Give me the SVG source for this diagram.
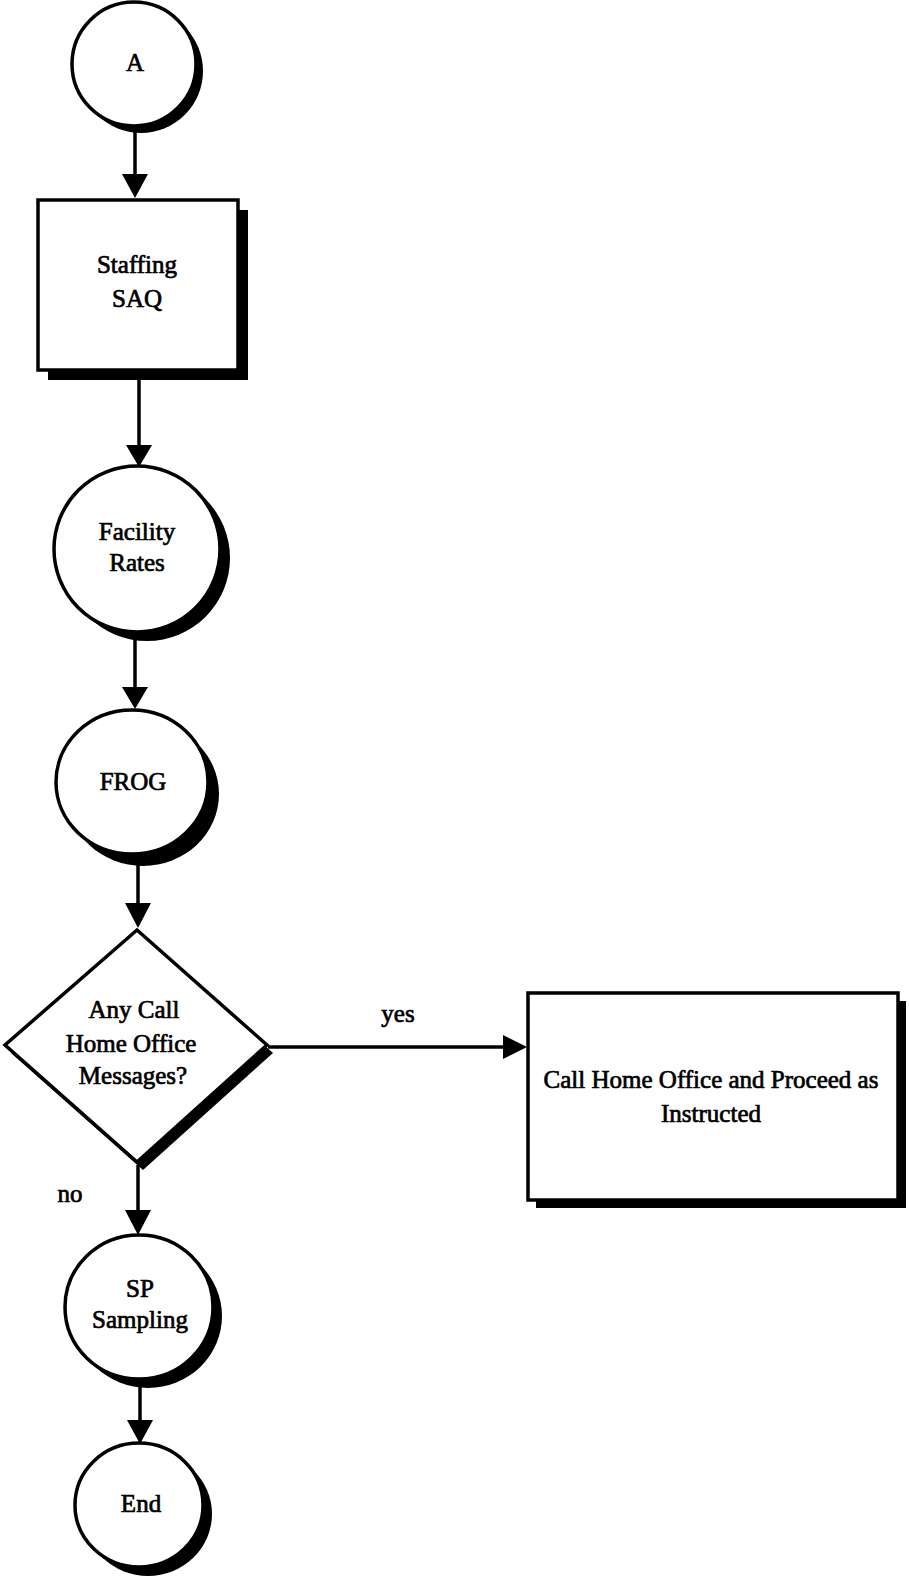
<svg xmlns="http://www.w3.org/2000/svg" width="909" height="1583" viewBox="0 0 909 1583">
<style>
.bg{fill:#fff}
.sh{fill:#000}
.nd{fill:#fff;stroke:#000;stroke-width:3.5}
.t{font-family:"Liberation Serif","Times New Roman",serif;font-size:25px;fill:#000;stroke:#000;stroke-width:0.7;text-anchor:middle}
.ln{stroke:#000;stroke-width:3.5;fill:none}
.ah{fill:#000}
</style>
<rect class="bg" x="0" y="0" width="909" height="1583"/>
<g id="connectors">
  <line class="ln" x1="135" y1="128" x2="135" y2="176"/>
  <polygon class="ah" points="122,174 148,174 135,198"/>
  <line class="ln" x1="139" y1="380" x2="139" y2="447"/>
  <polygon class="ah" points="126,445 152,445 139,467"/>
  <line class="ln" x1="135" y1="635" x2="135" y2="689"/>
  <polygon class="ah" points="122,687 148,687 135,709"/>
  <line class="ln" x1="138" y1="865" x2="138" y2="905"/>
  <polygon class="ah" points="125,903 151,903 138,928"/>
  <line class="ln" x1="268" y1="1047" x2="505" y2="1047"/>
  <polygon class="ah" points="503,1035 503,1059 527,1047"/>
  <text class="t" x="398" y="1022">yes</text>
  <line class="ln" x1="138" y1="1165" x2="138" y2="1212"/>
  <polygon class="ah" points="125,1210 151,1210 138,1235"/>
  <text class="t" x="70" y="1202">no</text>
  <line class="ln" x1="140" y1="1385" x2="140" y2="1422"/>
  <polygon class="ah" points="127,1420 153,1420 140,1444"/>
</g>
<g id="node-A">
  <circle class="sh" cx="141" cy="71" r="62"/>
  <circle class="nd" cx="134" cy="64" r="62"/>
  <text class="t" x="135" y="71">A</text>
</g>
<g id="node-staffing">
  <rect class="sh" x="48" y="210" width="200" height="170"/>
  <rect class="nd" x="38" y="200" width="200" height="170"/>
  <text class="t" x="137" y="273">Staffing</text>
  <text class="t" x="137" y="307">SAQ</text>
</g>
<g id="node-facility">
  <circle class="sh" cx="147" cy="558" r="83"/>
  <circle class="nd" cx="137" cy="549" r="83"/>
  <text class="t" x="137" y="540">Facility</text>
  <text class="t" x="137" y="571">Rates</text>
</g>
<g id="node-frog">
  <ellipse class="sh" cx="143" cy="794" rx="76" ry="72"/>
  <ellipse class="nd" cx="132" cy="782" rx="76" ry="72"/>
  <text class="t" x="133" y="790">FROG</text>
</g>
<g id="node-decision">
  <polygon class="sh" points="143,938 273,1053 143,1170 11,1053"/>
  <polygon class="nd" points="137,930 267,1045 137,1162 5,1045"/>
  <text class="t" x="134" y="1018">Any Call</text>
  <text class="t" x="131" y="1052">Home Office</text>
  <text class="t" x="133" y="1084">Messages?</text>
</g>
<g id="node-callhome">
  <rect class="sh" x="536" y="1001" width="370" height="207"/>
  <rect class="nd" x="528" y="993" width="370" height="207"/>
  <text class="t" x="711" y="1088">Call Home Office and Proceed as</text>
  <text class="t" x="711" y="1122">Instructed</text>
</g>
<g id="node-sp">
  <ellipse class="sh" cx="148" cy="1316" rx="74" ry="72"/>
  <ellipse class="nd" cx="139" cy="1307" rx="74" ry="72"/>
  <text class="t" x="140" y="1297">SP</text>
  <text class="t" x="140" y="1328">Sampling</text>
</g>
<g id="node-end">
  <ellipse class="sh" cx="148" cy="1514" rx="64" ry="62"/>
  <ellipse class="nd" cx="139" cy="1505" rx="64" ry="62"/>
  <text class="t" x="141" y="1512">End</text>
</g>
</svg>
